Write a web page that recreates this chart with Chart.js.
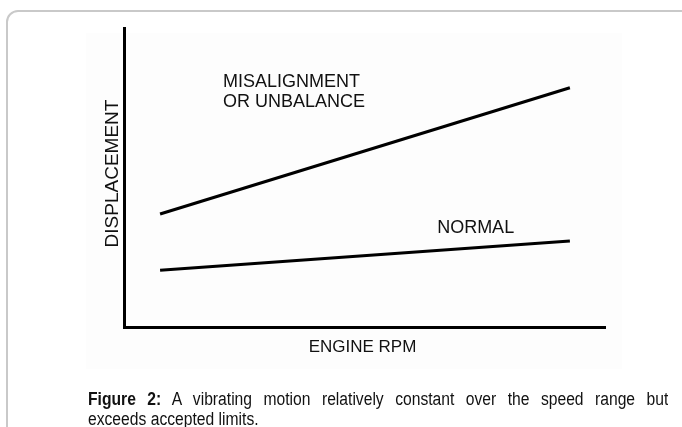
<!DOCTYPE html>
<html><head><meta charset="utf-8">
<script src="https://cdn.jsdelivr.net/npm/chart.js@4/dist/chart.umd.min.js"></script>
<style>
html,body{margin:0;padding:0;background:#fff;width:682px;height:427px;overflow:hidden}
#frame{position:absolute;left:6px;top:10px;width:720px;height:460px;border:2px solid #c9c9c9;border-radius:12px;box-sizing:border-box}
#imgbg{position:absolute;left:86px;top:33px;width:536px;height:336px;background:#fdfdfd}
#chart{position:absolute;left:0;top:0}
#cap{position:absolute;left:88px;top:389px;width:667px;transform:scaleX(0.87);transform-origin:0 0;font-family:'Liberation Sans',Arial,sans-serif;font-size:18px;line-height:20px;color:#111}
#cap .l1{text-align:justify;text-align-last:justify}
</style></head>
<body>
<div id="frame"></div>
<div id="imgbg"></div>
<canvas id="chart" width="682" height="427"></canvas>
<div id="cap"><div class="l1"><b>Figure 2:</b> A vibrating motion relatively constant over the speed range but</div><div>exceeds accepted limits.</div></div>
<script>
// Data (arbitrary units, axes 0-100)
const rpm = [7.5, 92.7];
const misalignment = [37.8, 80.0];
const normal = [19.0, 28.8];
const seriesNames = [['MISALIGNMENT', 'OR UNBALANCE'], ['NORMAL']];
const xTitle = 'ENGINE RPM';
const yTitle = 'DISPLACEMENT';

const toPts = (ys) => rpm.map((x, i) => ({x: x, y: ys[i]}));

const FONT = "'Liberation Sans', Arial, sans-serif";

const labelPlugin = {
  id: 'labels',
  afterDraw(chart) {
    const ctx = chart.ctx;
    const xs = chart.scales.x, ys = chart.scales.y;
    const ca = chart.chartArea;
    ctx.save();
    ctx.fillStyle = '#111';
    ctx.font = '18px ' + FONT;
    ctx.textAlign = 'left';
    ctx.textBaseline = 'alphabetic';
    // series labels anchored in data coordinates
    const anchors = [{x: 20.6, y: 80.3, gap: 20}, {x: 65.1, y: 31.5, gap: 20}];
    seriesNames.forEach((lines, k) => {
      const a = anchors[k];
      const px = xs.getPixelForValue(a.x);
      const py = ys.getPixelForValue(a.y);
      lines.forEach((t, j) => ctx.fillText(t, px, py + j * a.gap));
    });
    // axis titles
    ctx.font = '17px ' + FONT;
    ctx.textAlign = 'center';
    ctx.fillText(xTitle, (ca.left + ca.right) / 2 - 2, ca.bottom + 25);
    ctx.save();
    ctx.translate(ca.left - 6, (ca.top + ca.bottom) / 2 - 4);
    ctx.rotate(-Math.PI / 2);
    ctx.font = '19px ' + FONT;
    ctx.fillText(yTitle, 0, 0);
    ctx.restore();
    ctx.restore();
  }
};

const axis = {
  type: 'linear', min: 0, max: 100,
  ticks: {display: false},
  grid: {display: false},
  border: {display: true, color: '#000', width: 3}
};

new Chart(document.getElementById('chart'), {
  type: 'line',
  data: {
    datasets: [
      {label: seriesNames[0].join(' '), data: toPts(misalignment), borderColor: '#000', borderWidth: 3, pointRadius: 0, tension: 0},
      {label: seriesNames[1].join(' '), data: toPts(normal), borderColor: '#000', borderWidth: 3, pointRadius: 0, tension: 0}
    ]
  },
  options: {
    responsive: false,
    animation: false,
    layout: {autoPadding: false, padding: {left: 116, top: 28, right: 77, bottom: 92}},
    plugins: {legend: {display: false}, tooltip: {enabled: false}},
    scales: {x: axis, y: axis}
  },
  plugins: [labelPlugin]
});
</script>
</body></html>
